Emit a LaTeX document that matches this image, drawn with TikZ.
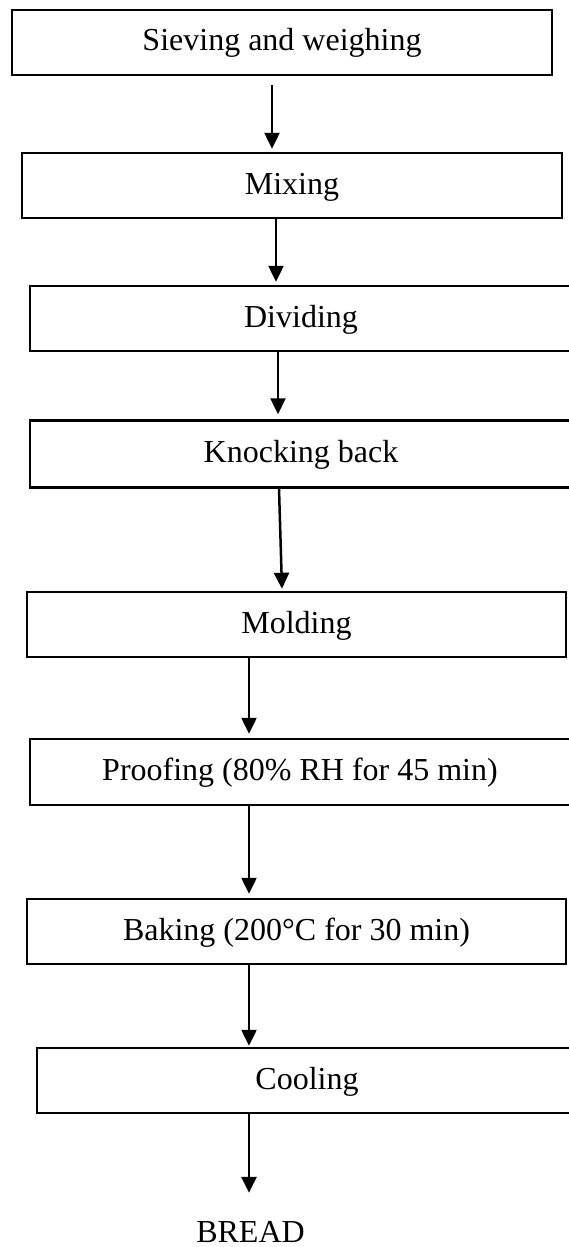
\documentclass[tikz,border=0pt]{standalone}
\usepackage{fontspec}
\setmainfont{Liberation Serif}
\usetikzlibrary{arrows.meta}

\tikzset{
  stepbox/.style={draw, line width=2.5pt, rectangle, inner sep=0pt,
    minimum height=65pt, text height=25pt, text depth=8pt,
    font=\fontsize{32}{38}\selectfont},
  flow/.style={line width=2.5pt, -{Triangle[length=16pt,width=15pt]}},
  endlabel/.style={inner sep=0pt, anchor=base, text height=21pt, text depth=0pt,
    font=\fontsize{32}{38}\selectfont}
}

\begin{document}
\begin{tikzpicture}[x=1pt,y=-1pt]
  \useasboundingbox (0,0) rectangle (568,1247);

  % process steps
  \node[stepbox, minimum width=540pt] (s1) at (282,42.5)   {Sieving and weighing};
  \node[stepbox, minimum width=540pt] (s2) at (292,185.5)  {Mixing};
  \node[stepbox, minimum width=542pt] (s3) at (301,318.5)  {Dividing};
  \node[stepbox, minimum width=542pt, minimum height=67pt] (s4) at (301,454) {Knocking back};
  \node[stepbox, minimum width=539pt] (s5) at (296.5,624.5) {Molding};
  \node[stepbox, minimum width=540pt, minimum height=66pt] (s6) at (300,772) {Proofing (80\% RH for 45 min)};
  \node[stepbox, minimum width=539pt] (s7) at (296.5,931.5) {Baking (200°C for 30 min)};
  \node[stepbox, minimum width=540pt] (s8) at (307,1080.5) {Cooling};
  \node[endlabel] (bread) at (250.5,1242) {BREAD};

  % connectors between steps
  \draw[flow] ([xshift=-10pt,yshift=-9pt]s1.south) -- ([xshift=-20pt,yshift=3pt]s2.north);
  \draw[flow] ([xshift=-16pt]s2.south) -- ([xshift=-25pt,yshift=3pt]s3.north);
  \draw[flow] ([xshift=-23pt]s3.south) -- ([xshift=-23pt,yshift=5pt]s4.north);
  \draw[flow] ([xshift=-22pt]s4.south) -- ([xshift=-14.5pt,yshift=2pt]s5.north);
  \draw[flow] ([xshift=-47.5pt]s5.south) -- ([xshift=-51pt,yshift=4pt]s6.north);
  \draw[flow] ([xshift=-51pt]s6.south) -- ([xshift=-47.5pt,yshift=4pt]s7.north);
  \draw[flow] ([xshift=-47.5pt]s7.south) -- ([xshift=-58pt,yshift=1pt]s8.north);
  \draw[flow] ([xshift=-58pt]s8.south) -- ([xshift=-1.5pt,yshift=28pt]bread.north);
\end{tikzpicture}
\end{document}
